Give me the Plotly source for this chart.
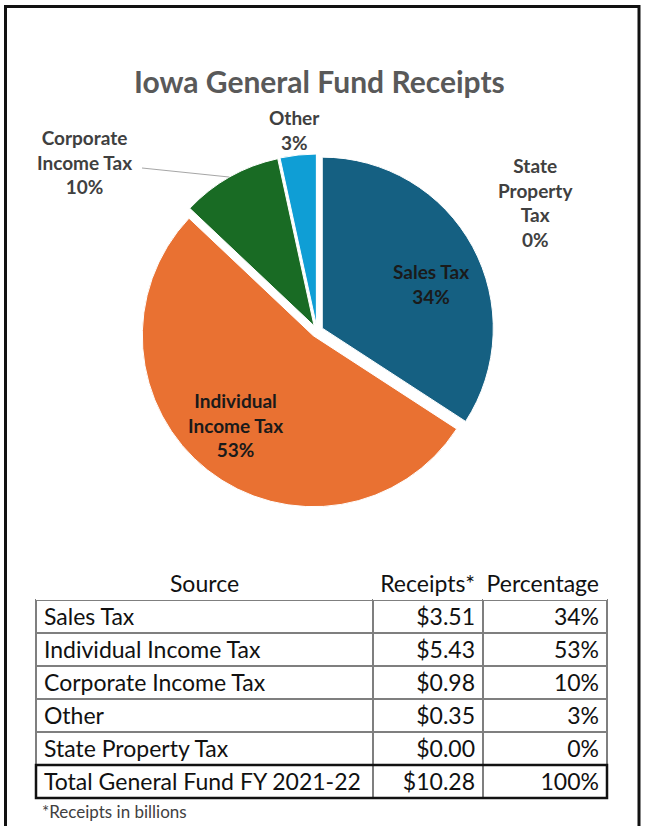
import plotly.graph_objects as go

# ---------------- data ----------------
sources = ["Sales Tax", "Individual Income Tax", "Corporate Income Tax", "Other", "State Property Tax"]
receipts = [3.51, 5.43, 0.98, 0.35, 0.00]          # billions of dollars
percentages = [34, 53, 10, 3, 0]
pie_labels = ["Sales Tax", "Individual<br>Income Tax", "Corporate<br>Income Tax", "Other", "State<br>Property<br>Tax"]
total_label = "Total General Fund FY 2021-22"
total_receipts = 10.28
total_percentage = 100

# ---------------- styling ----------------
W, H = 645, 826
colors = ["#156082", "#E97132", "#196B24", "#0F9ED5", "#A02B93"]
FONT = "Lato"


def px(x):
    return x / W


def py(y):
    return 1 - y / H


fig = go.Figure()

fig.add_trace(go.Pie(
    labels=sources,
    values=receipts,
    sort=False,
    direction="clockwise",
    rotation=0,
    pull=[0.035] * len(sources),
    marker=dict(colors=colors, line=dict(color="white", width=1)),
    textinfo="none",
    hoverinfo="label+percent",
    showlegend=False,
    domain=dict(x=[px(317 - 177), px(317 + 177)], y=[py(331 + 177), py(331 - 177)]),
))

# pie data labels (text derived from the data lists)
label_pos = [(431, 284), (235, 425), (84, 162), (294, 130), (535, 202)]
label_colors = ["#1a1a1a", "#1a1a1a", "#404040", "#404040", "#404040"]
for lab, pct, (lx, ly), c in zip(pie_labels, percentages, label_pos, label_colors):
    fig.add_annotation(
        x=px(lx), y=py(ly), xref="paper", yref="paper",
        text=f"<b>{lab}<br>{pct}%</b>", showarrow=False,
        xanchor="center", yanchor="middle", align="center",
        font=dict(family=FONT, size=19, color=c),
    )

# leader line for Corporate Income Tax label
fig.add_shape(type="line", xref="paper", yref="paper",
              x0=px(142), y0=py(168), x1=px(229), y1=py(177),
              line=dict(color="#a6a6a6", width=1))

# title
fig.add_annotation(
    x=px(319), y=py(81), xref="paper", yref="paper",
    text="<b>Iowa General Fund Receipts</b>", showarrow=False,
    xanchor="center", yanchor="middle",
    font=dict(family=FONT, size=30, color="#595959"),
)

# ---------------- table ----------------
# non-breaking spaces keep each cell on a single line
col_source = [s.replace(" ", "\u00a0") for s in sources + [total_label]]
col_receipts = [f"${v:.2f}" for v in receipts] + [f"${total_receipts:.2f}"]
col_pct = [f"{p}%" for p in percentages] + [f"{total_percentage}%"]

fig.add_trace(go.Table(
    domain=dict(x=[px(36), px(607)], y=[py(798), py(567)]),
    columnwidth=[337, 110, 124],
    header=dict(
        values=["Source", "Receipts*", "Percentage"],
        align=["center", "right", "right"],
        fill=dict(color="white"),
        line=dict(color="white", width=0),
        font=dict(family=FONT, size=23, color="#111111"),
        height=33,
    ),
    cells=dict(
        values=[col_source, col_receipts, col_pct],
        align=["left", "right", "right"],
        fill=dict(color="white"),
        line=dict(color="#7f7f7f", width=1.5),
        font=dict(family=FONT, size=23, color="#111111"),
        height=33,
    ),
))

# thick box around the total row
fig.add_shape(type="rect", xref="paper", yref="paper",
              x0=px(36), x1=px(607), y0=py(798), y1=py(765),
              line=dict(color="#111111", width=2.5), layer="above")

# footnote
fig.add_annotation(
    x=px(40), y=py(811), xref="paper", yref="paper",
    text="*Receipts in billions", showarrow=False,
    xanchor="left", yanchor="middle",
    font=dict(family=FONT, size=17, color="#404040"),
)

# outer frame
fig.add_shape(type="rect", xref="paper", yref="paper",
              x0=px(5.5), x1=px(639), y0=-0.02, y1=py(6.5),
              line=dict(color="#111111", width=3), layer="above")

fig.update_layout(
    width=W, height=H, autosize=False,
    margin=dict(l=0, r=0, t=0, b=0),
    paper_bgcolor="white", plot_bgcolor="white",
    font=dict(family=FONT),
)

# remove the default 8px page margin so the figure fills the window exactly
fig.write_html("out.html", config={"displayModeBar": False},
               post_script="document.body.style.margin='0px';")
